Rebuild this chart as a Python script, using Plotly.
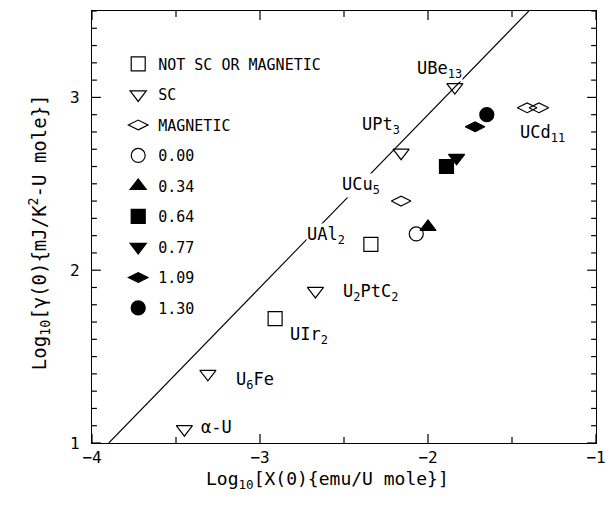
import plotly.graph_objects as go

# ---- data (log10 chi, log10 gamma) ----
notsc_x = [-2.34, -2.91]
notsc_y = [2.15, 1.72]
sc_x = [-1.84, -2.16, -2.67, -3.31, -3.45]
sc_y = [3.06, 2.68, 1.88, 1.40, 1.08]
mag_x = [-2.16, -1.41, -1.34]
mag_y = [2.40, 2.94, 2.94]
conc_labels = ["0.00", "0.34", "0.64", "0.77", "1.09", "1.30"]
conc_x = [-2.07, -2.00, -1.89, -1.83, -1.72, -1.65]
conc_y = [2.21, 2.25, 2.60, 2.65, 2.83, 2.90]
conc_symbols = ["circle-open", "triangle-up", "square", "triangle-down", "diamond-wide", "circle"]

line_x = [-3.9, -1.4]
line_y = [1.0, 3.5]

lab_text = ["UBe<sub>13</sub>", "UPt<sub>3</sub>", "UCu<sub>5</sub>", "UAl<sub>2</sub>",
            "UCd<sub>11</sub>", "U<sub>2</sub>PtC<sub>2</sub>", "UIr<sub>2</sub>",
            "U<sub>6</sub>Fe", "α-U"]
lab_x = [-1.93, -2.28, -2.40, -2.61, -1.32, -2.34, -2.71, -3.03, -3.26]
lab_y = [3.16, 2.84, 2.49, 2.20, 2.79, 1.87, 1.62, 1.36, 1.09]

x_range = [-4, -1]
y_range = [1, 3.5]
x_major = [-4, -3, -2, -1]
x_minor = [-3.5, -2.5, -1.5]
y_major = [1, 2, 3]
y_minor = [round(1 + 0.1 * i, 1) for i in range(26)]

FONT = "DejaVu Sans Mono"
W, H = 616, 505
ML, MR, MT, MB = 92, 10, 11, 62
PW, PH = W - ML - MR, H - MT - MB

fig = go.Figure()
fig.add_trace(go.Scatter(x=line_x, y=line_y, mode="lines",
                         line=dict(color="black", width=1.1), showlegend=False))

def add(name, xs, ys, symbol, grp):
    fig.add_trace(go.Scatter(
        x=xs, y=ys, mode="markers", name=name, legendgroup=grp,
        marker=dict(symbol=symbol, size=14, color="black",
                    line=dict(color="black", width=1.2))))

add("NOT SC OR MAGNETIC", notsc_x, notsc_y, "square-open", "g1")
add("SC", sc_x, sc_y, "triangle-down-open", "g2")
add("MAGNETIC", mag_x, mag_y, "diamond-wide-open", "g3")
for i, (lab, sym) in enumerate(zip(conc_labels, conc_symbols)):
    add(lab, [conc_x[i]], [conc_y[i]], sym, "c%d" % i)

annotations = []
for t, x, y in zip(lab_text, lab_x, lab_y):
    annotations.append(dict(x=x, y=y, xref="x", yref="y", text=t, showarrow=False,
                            font=dict(family=FONT, size=17, color="black"),
                            bgcolor="white", borderpad=0))

annotations.append(dict(x=0.467, y=-0.118, xref="paper", yref="paper",
                        text="Log<sub>10</sub>[X(0){emu/U mole}]", showarrow=False,
                        font=dict(family=FONT, size=18, color="black")))
annotations.append(dict(x=-0.136, y=0.488, xref="paper", yref="paper", textangle=-90,
                        text="Log<sub>10</sub>[γ(0){mJ/K<sup>2</sup>-U mole}]", showarrow=False,
                        font=dict(family=FONT, size=19, color="black")))

# tick marks drawn on all four sides (inside)
shapes = []
tick_line = dict(color="black", width=1.2)
def xtick(v, L):
    fy = L / PH
    shapes.append(dict(type="line", xref="x", yref="y domain", x0=v, x1=v, y0=0, y1=fy,
                       line=tick_line, layer="above"))
    shapes.append(dict(type="line", xref="x", yref="y domain", x0=v, x1=v, y0=1, y1=1 - fy,
                       line=tick_line, layer="above"))
def ytick(v, L):
    fx = L / PW
    shapes.append(dict(type="line", xref="x domain", yref="y", x0=0, x1=fx, y0=v, y1=v,
                       line=tick_line, layer="above"))
    shapes.append(dict(type="line", xref="x domain", yref="y", x0=1, x1=1 - fx, y0=v, y1=v,
                       line=tick_line, layer="above"))
for v in x_major:
    xtick(v, 9)
for v in x_minor:
    xtick(v, 6)
for v in y_minor:
    ytick(v, 9 if v in y_major else 5)

fig.update_layout(
    width=W, height=H,
    margin=dict(l=ML, r=MR, t=MT, b=MB),
    plot_bgcolor="white", paper_bgcolor="white",
    showlegend=True,
    legend=dict(x=0.052, y=0.915, xanchor="left", yanchor="top",
                bgcolor="rgba(0,0,0,0)", borderwidth=0, tracegroupgap=8,
                font=dict(family=FONT, size=15, color="black")),
    annotations=annotations,
    shapes=shapes,
)
fig.update_xaxes(range=x_range, showline=True, linecolor="black", linewidth=1.2,
                 mirror=True, ticks="", tickvals=x_major, showgrid=False, zeroline=False,
                 tickfont=dict(family=FONT, size=16, color="black"))
fig.update_yaxes(range=y_range, showline=True, linecolor="black", linewidth=1.2,
                 mirror=True, ticks="", tickvals=y_major, showgrid=False, zeroline=False,
                 ticklabelstandoff=8,
                 tickfont=dict(family=FONT, size=16, color="black"))

fig.write_html("out.html")
